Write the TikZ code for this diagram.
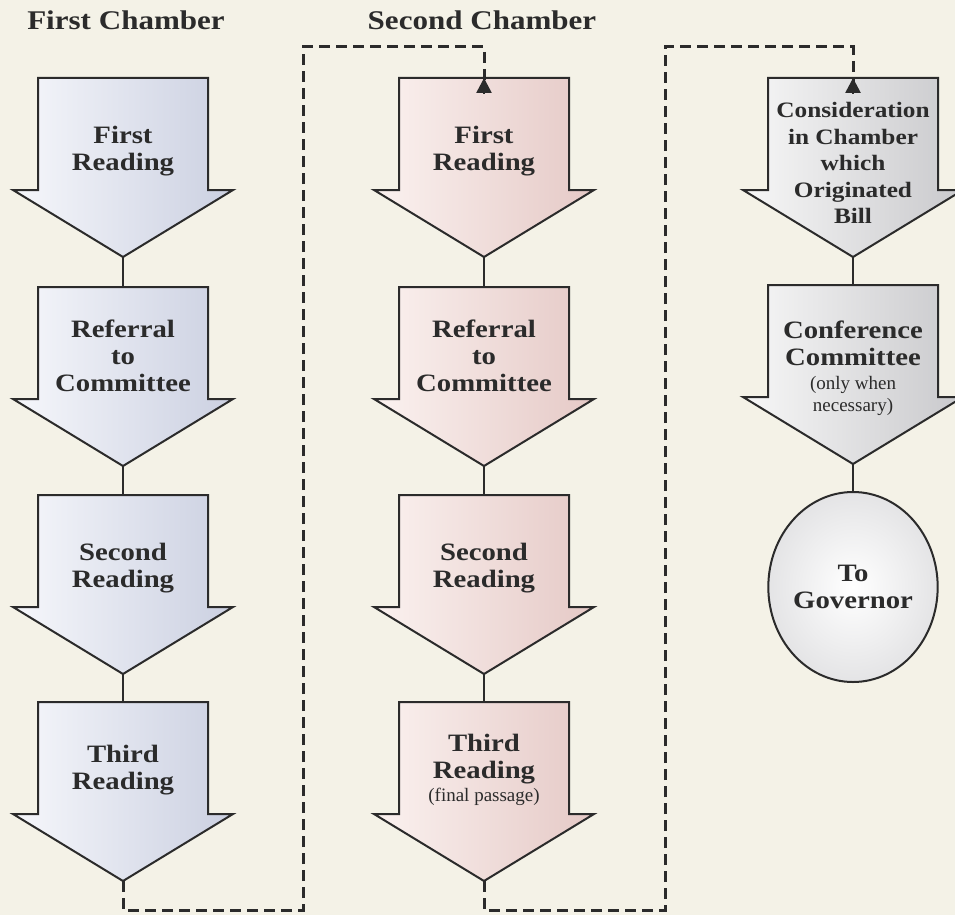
\documentclass[tikz,border=0pt]{standalone}
\usepackage{fontspec}
\setmainfont{Liberation Serif}[BoldFeatures={FakeStretch=1.15}]
\usetikzlibrary{arrows.meta,shapes.geometric}
\definecolor{bg}{HTML}{F4F2E7}
\definecolor{blueA}{HTML}{F6F7FB}
\definecolor{blueB}{HTML}{CBD0E1}
\definecolor{pinkA}{HTML}{FBF2F0}
\definecolor{pinkB}{HTML}{E5C9C6}
\definecolor{grayA}{HTML}{F7F7F7}
\definecolor{grayB}{HTML}{C9C9CC}
\definecolor{ink}{HTML}{2B2B2B}
\newcommand\arrowshape[5]{%
  \shade[left color=#4, right color=#5, draw=ink, line width=2pt, line join=miter]
    (#2-85,#3) -- (#2+85,#3) -- (#2+85,#3+112) -- (#2+110,#3+112) -- (#2,#3+179)
    -- (#2-110,#3+112) -- (#2-85,#3+112) -- cycle;
  \coordinate (#1top) at (#2,#3);
  \coordinate (#1tip) at (#2,#3+179);}
\tikzset{
  lbl/.style={font=\bfseries\fontsize{25}{27}\selectfont, align=center, text=ink, inner sep=0pt},
  lblsm/.style={font=\bfseries\fontsize{22}{26.5}\selectfont, align=center, text=ink, inner sep=0pt},
  head/.style={font=\bfseries\fontsize{27}{30}\selectfont, text=ink, inner sep=0pt},
  conn/.style={draw=ink, line width=2.6pt},
  dconn/.style={draw=ink, line width=3pt, dash pattern=on 11pt off 6pt},
  tiparrow/.style={-{Triangle[length=15pt,width=15pt]}}
}
\newcommand\smalltxt[1]{{\mdseries\fontsize{19}{22}\selectfont #1}}
\begin{document}
\begin{tikzpicture}[x=1pt,y=-1pt]
\fill[bg] (0,0) rectangle (955,915);
\useasboundingbox (0,0) rectangle (955,915);
% headings
\node[head] (h1) at (126,20) {First Chamber};
\node[head] (h2) at (482,20) {Second Chamber};
% column 1
\arrowshape{c1a1}{123}{78}{blueA}{blueB}
\arrowshape{c1a2}{123}{287}{blueA}{blueB}
\arrowshape{c1a3}{123}{495}{blueA}{blueB}
\arrowshape{c1a4}{123}{702}{blueA}{blueB}
% column 2
\arrowshape{c2a1}{484}{78}{pinkA}{pinkB}
\arrowshape{c2a2}{484}{287}{pinkA}{pinkB}
\arrowshape{c2a3}{484}{495}{pinkA}{pinkB}
\arrowshape{c2a4}{484}{702}{pinkA}{pinkB}
% column 3
\arrowshape{c3a1}{853}{78}{grayA}{grayB}
\arrowshape{c3a2}{853}{285}{grayA}{grayB}
\node[ellipse, draw=ink, line width=2pt, minimum width=166pt, minimum height=190pt,
      inner color=white, outer color=grayB!50!white, lbl] (gov) at (853,587) {To\\Governor};
% labels
\node[lbl] (t11) at (123,151) {First\\Reading};
\node[lbl] (t12) at (123,356) {Referral\\to\\Committee};
\node[lbl] (t13) at (123,568) {Second\\Reading};
\node[lbl] (t14) at (123,770) {Third\\Reading};
\node[lbl] (t21) at (484,151) {First\\Reading};
\node[lbl] (t22) at (484,356) {Referral\\to\\Committee};
\node[lbl] (t23) at (484,568) {Second\\Reading};
\node[lbl] (t24) at (484,770) {Third\\Reading\\[-4pt]\smalltxt{(final passage)}};
\node[lblsm] (t31) at (853,163) {Consideration\\in Chamber\\which\\Originated\\Bill};
\node[lbl] (t32) at (853,368) {Conference\\Committee\\[-3pt]\smalltxt{(only when}\\[-5pt]\smalltxt{necessary)}};
% solid connectors
\draw[conn] (c1a1tip) -- (c1a2top);
\draw[conn] (c1a2tip) -- (c1a3top);
\draw[conn] (c1a3tip) -- (c1a4top);
\draw[conn] (c2a1tip) -- (c2a2top);
\draw[conn] (c2a2tip) -- (c2a3top);
\draw[conn] (c2a3tip) -- (c2a4top);
\draw[conn] (c3a1tip) -- (c3a2top);
\draw[conn] (c3a2tip) -- (gov.north);
% dashed connectors
\coordinate (d1a) at (303,910);
\coordinate (d1b) at (303,47);
\coordinate (d2a) at (665,910);
\coordinate (d2b) at (665,47);
\draw[dconn] (c1a4tip) |- (d1a) -- (d1b) -| ([yshift=-14pt]c2a1top);
\draw[conn, tiparrow] ([yshift=-16pt]c2a1top) -- (c2a1top);
\draw[dconn] (c2a4tip) |- (d2a) -- (d2b) -| ([yshift=-14pt]c3a1top);
\draw[conn, tiparrow] ([yshift=-16pt]c3a1top) -- (c3a1top);
\end{tikzpicture}
\end{document}
